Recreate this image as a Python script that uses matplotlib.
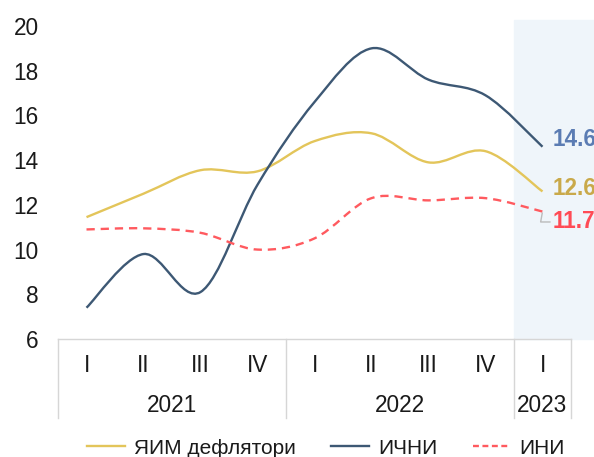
import numpy as np
import matplotlib.pyplot as plt
from matplotlib.path import Path
from matplotlib.patches import PathPatch
from matplotlib.lines import Line2D
import matplotlib.transforms as mtransforms

plt.rcParams['font.family'] = ['Liberation Sans', 'DejaVu Sans']

quarters = ["I", "II", "III", "IV", "I", "II", "III", "IV", "I"]
years = ["2021", "2022", "2023"]
year_spans = [(0, 3), (4, 7), (8, 8)]

gdp_deflator = [11.45, 12.5, 13.55, 13.5, 14.85, 15.2, 13.9, 14.4, 12.6]
ppi = [7.4, 9.8, 8.1, 12.9, 16.6, 19.0, 17.6, 16.9, 14.6]
cpi = [10.9, 10.95, 10.75, 10.0, 10.5, 12.3, 12.2, 12.3, 11.7]

C_DEF = "#E3C55A"
C_PPI = "#3D5874"
C_CPI = "#FF5A5F"
FS = 16.3


def smooth_path(ax, ys):
    # Excel-style smoothed line: cubic bezier segments, built in pixel space
    xs = np.arange(len(ys))
    pts = ax.transData.transform(np.column_stack([xs, ys]))
    verts = [pts[0]]
    codes = [Path.MOVETO]
    n = len(pts)
    for i in range(n - 1):
        p0 = pts[i - 1] if i > 0 else pts[i]
        p1 = pts[i]
        p2 = pts[i + 1]
        p3 = pts[i + 2] if i + 2 < n else pts[i + 1]
        c1 = p1 + (p2 - p0) / 6
        c2 = p2 - (p3 - p1) / 6
        verts += [c1, c2, p2]
        codes += [Path.CURVE4] * 3
    return Path(verts, codes)


fig = plt.figure(figsize=(5.94, 4.57), dpi=100)
ax = fig.add_axes([58 / 594, 1 - 339 / 457, 513 / 594, 313 / 457])
ax.set_xlim(-0.5, 8.5)
ax.set_ylim(6, 20)
ax.set_yticks(range(6, 21, 2))
ax.set_xticks([])
ax.tick_params(axis="y", length=0, pad=14, labelsize=FS, labelcolor="#1a1a1a")
for s in ["top", "right", "left"]:
    ax.spines[s].set_visible(False)
ax.spines["bottom"].set_color("#D6D6D6")
ax.spines["bottom"].set_linewidth(1.0)

# shaded forecast area
ax.axvspan(7.5, 9.5, ymin=0, ymax=1.02, color="#EFF5FA", zorder=0, clip_on=False)

for ys, col, ls in [(gdp_deflator, C_DEF, "-"), (ppi, C_PPI, "-"), (cpi, C_CPI, (0, (3.5, 2.5)))]:
    p = PathPatch(smooth_path(ax, ys), facecolor="none", edgecolor=col,
                  lw=1.7, linestyle=ls, transform=mtransforms.IdentityTransform(),
                  zorder=3)
    ax.add_patch(p)

# end labels
ax.annotate("14.6", (8, ppi[-1]), xytext=(7.5, 5), textcoords="offset points",
            color="#5B7CB3", fontsize=FS, fontweight="bold", va="center")
ax.annotate("12.6", (8, gdp_deflator[-1]), xytext=(7.5, 2), textcoords="offset points",
            color="#C9A94A", fontsize=FS, fontweight="bold", va="center")
ax.annotate("11.7", (8, cpi[-1]), xytext=(7.5, -7.5), textcoords="offset points",
            color="#FF4B55", fontsize=FS, fontweight="bold", va="center",
            arrowprops=dict(arrowstyle="-", color="#BBBBBB", lw=1,
                            connectionstyle="angle,angleA=0,angleB=80",
                            shrinkA=0, shrinkB=1))

# two-level category axis
trans = mtransforms.blended_transform_factory(ax.transData, ax.transAxes)
for i, q in enumerate(quarters):
    ax.text(i, -0.086, q, transform=trans, ha="center", va="center",
            fontsize=FS, color="#1a1a1a")
for yr, (a, b) in zip(years, year_spans):
    ax.text((a + b) / 2, -0.211, yr, transform=trans, ha="center", va="center",
            fontsize=FS, color="#1a1a1a")
for xb in [-0.5, 3.5, 7.5, 8.5]:
    ax.add_line(Line2D([xb, xb], [0, -0.252], transform=trans, color="#D6D6D6",
                       lw=1.0, clip_on=False))

handles = [Line2D([], [], color=C_DEF, lw=1.7),
           Line2D([], [], color=C_PPI, lw=1.7),
           Line2D([], [], color=C_CPI, lw=1.7, linestyle=(0, (2.5, 1.5)))]
fig.legend(handles, ["ЯИМ дефлятори", "ИЧНИ", "ИНИ"], loc="center",
           bbox_to_anchor=(326 / 594, 1 - 448 / 457), ncol=3, frameon=False,
           fontsize=15, handlelength=1.8, handletextpad=0.45, columnspacing=1.7,
           labelcolor="#1a1a1a")

fig.savefig("out.png", dpi=100)
